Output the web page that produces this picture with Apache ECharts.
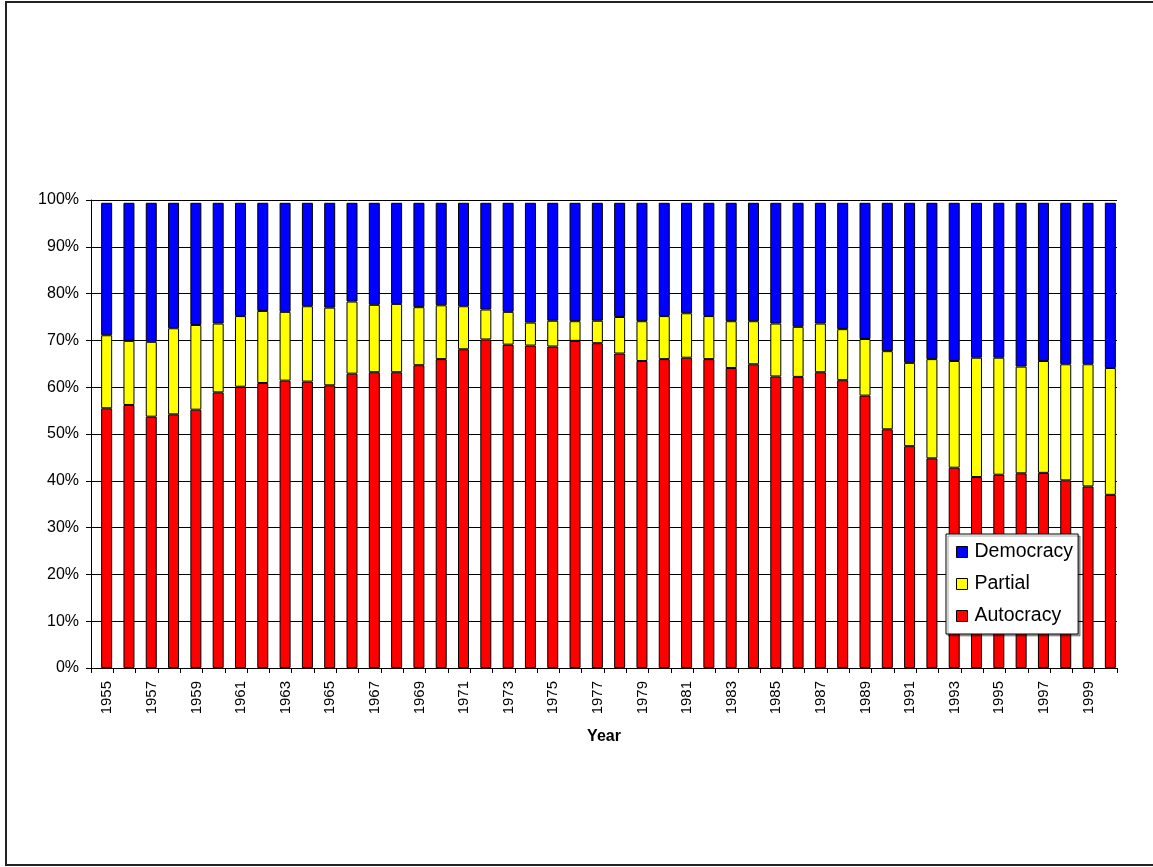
<!DOCTYPE html>
<html>
<head>
<meta charset="utf-8">
<script src="https://cdn.jsdelivr.net/npm/echarts@6/dist/echarts.min.js"></script>
<style>
html,body{margin:0;padding:0;background:#fff;}
#chart{width:1153px;height:867px;}
</style>
</head>
<body>
<div id="chart"></div>
<script>
var years = [];
for (var y = 1955; y <= 2000; y++) years.push(String(y));

var autocracy = [55.5,56.2,53.7,54.2,55.2,58.9,60.1,60.9,61.4,61.2,60.4,62.9,63.2,63.2,64.7,66.0,68.1,70.2,69.1,68.9,68.7,69.9,69.4,67.2,65.6,66.0,66.3,66.0,64.1,64.9,62.3,62.2,63.2,61.5,58.2,51.0,47.4,44.8,42.8,40.8,41.3,41.6,41.7,40.1,38.8,37.0];
var partial = [15.6,13.7,16.0,18.4,18.1,14.7,15.1,15.4,14.7,16.1,16.6,15.4,14.4,14.6,12.4,11.5,9.2,6.4,7.0,4.9,5.5,4.2,4.8,7.8,8.5,9.2,9.5,9.2,10.0,9.2,11.3,10.7,10.4,10.9,12.1,16.7,17.8,21.2,22.8,25.5,25.0,22.8,23.9,24.8,26.1,27.1];
var democracy = [28.3,29.5,29.7,26.8,26.1,25.8,24.2,23.1,23.3,22.1,22.4,21.1,21.8,21.6,22.3,21.9,22.1,22.8,23.3,25.6,25.2,25.3,25.2,24.4,25.3,24.2,23.6,24.2,25.3,25.3,25.8,26.5,25.8,27.0,29.1,31.7,34.2,33.4,33.8,33.1,33.1,35.0,33.8,34.5,34.5,35.3];
var yTicks = [0,10,20,30,40,50,60,70,80,90,100];

var chart = echarts.init(document.getElementById('chart'), null, {renderer:'canvas'});
var barStyle = function(c){ return {color:c, borderColor:'#000', borderWidth:1}; };
var padData = years.map(function(){ return null; });

chart.setOption({
  animation:false,
  backgroundColor:'#fff',
  textStyle:{fontFamily:'Liberation Sans, Arial, sans-serif'},
  graphic:[{
    type:'rect', z:-1,
    shape:{x:6, y:2, width:1160, height:863},
    style:{fill:'#fff', stroke:'#222', lineWidth:2}
  }],
  grid:{left:91, right:36, top:200, bottom:199, containLabel:false},
  legend:{
    data:['Democracy','Partial','Autocracy'],
    orient:'vertical',
    icon:'rect',
    left:946, top:534,
    padding:[8,5,8,10],
    itemGap:12,
    itemWidth:11, itemHeight:11,
    backgroundColor:'#fff',
    borderColor:'#000', borderWidth:1,
    shadowColor:'rgba(0,0,0,0.35)', shadowOffsetX:2, shadowOffsetY:2, shadowBlur:0,
    textStyle:{fontSize:19.5, color:'#000', fontFamily:'Liberation Sans, Arial, sans-serif', padding:[0,0,0,2]},
    itemStyle:{borderColor:'#000', borderWidth:1}
  },
  xAxis:{
    type:'category',
    data:years,
    name:'Year',
    nameLocation:'middle',
    nameGap:61,
    nameTextStyle:{fontSize:16, fontWeight:'bold', color:'#000'},
    axisLine:{lineStyle:{color:'#000', width:1}},
    axisTick:{show:true, interval:0, length:5, lineStyle:{color:'#000'}},
    axisLabel:{interval:1, rotate:90, fontSize:15, color:'#000', margin:13, verticalAlign:'top', lineHeight:10},
    splitLine:{show:false}
  },
  yAxis:{
    type:'value',
    min:0, max:100, interval:10,
    axisLine:{show:true, lineStyle:{color:'#000', width:1}},
    axisTick:{show:true, length:5, lineStyle:{color:'#000'}},
    axisLabel:{fontSize:16, color:'#000', margin:12, formatter:function(v){ return yTicks.indexOf(v) >= 0 ? v + '%' : ''; }},
    splitLine:{show:true, lineStyle:{color:'#000', width:1}}
  },
  series:[
    {name:'pad', type:'bar', stack:'pad', data:padData, barWidth:9, barGap:'0%', silent:true, itemStyle:{color:'transparent'}},
    {name:'Autocracy', type:'bar', stack:'a', data:autocracy, barWidth:11, barGap:'0%', itemStyle:barStyle('#FF0000')},
    {name:'Partial', type:'bar', stack:'a', data:partial, barWidth:11, itemStyle:barStyle('#FFFF00')},
    {name:'Democracy', type:'bar', stack:'a', data:democracy, barWidth:11, itemStyle:barStyle('#0000FF')}
  ]
});
</script>
</body>
</html>
